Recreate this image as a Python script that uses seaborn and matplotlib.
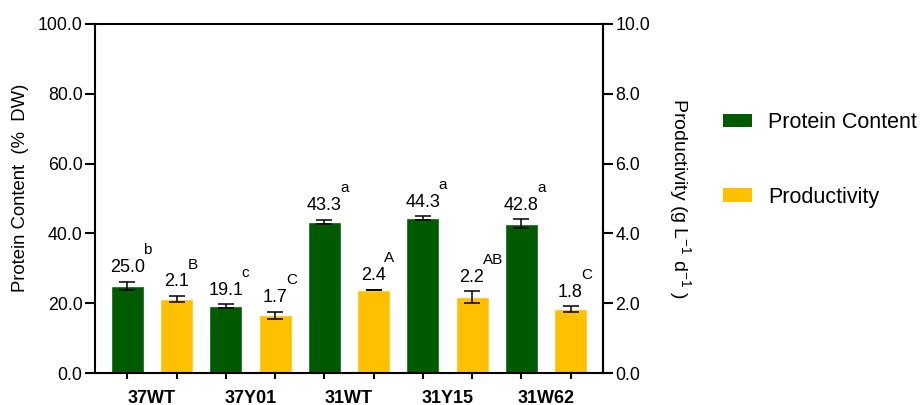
import matplotlib
matplotlib.use("Agg")
import matplotlib.pyplot as plt
import seaborn as sns
import pandas as pd
import numpy as np
from matplotlib.ticker import FormatStrFormatter, FixedLocator
from matplotlib.patches import Patch

strains = ["37WT", "37Y01", "31WT", "31Y15", "31W62"]
protein = [25.0, 19.1, 43.3, 44.3, 42.8]
protein_err = [1.2, 0.6, 0.6, 0.6, 1.2]
protein_letters = ["b", "c", "a", "a", "a"]
productivity = [2.12, 1.66, 2.38, 2.18, 1.83]
productivity_err = [0.08, 0.10, 0.01, 0.16, 0.08]
productivity_letters = ["B", "C", "A", "AB", "C"]
series_names = ["Protein Content", "Productivity"]
left_ticks = [0, 20, 40, 60, 80, 100]
right_ticks = [0, 2, 4, 6, 8, 10]

GREEN = "#005A00"
YELLOW = "#FFC000"

sns.set_style("white")
plt.rcParams["font.family"] = ["Liberation Sans", "DejaVu Sans"]
plt.rcParams["mathtext.fontset"] = "custom"
plt.rcParams["mathtext.rm"] = "Liberation Sans"
plt.rcParams["mathtext.it"] = "Liberation Sans:italic"
plt.rcParams["text.color"] = "black"
plt.rcParams["axes.labelcolor"] = "black"
plt.rcParams["xtick.color"] = "black"
plt.rcParams["ytick.color"] = "black"

scale = 10.0  # productivity plotted against left axis (0-100 <-> 0-10)
df = pd.DataFrame({
    "Strain": strains * 2,
    "Series": [series_names[0]] * 5 + [series_names[1]] * 5,
    "Value": protein + [v * scale for v in productivity],
})

fig = plt.figure(figsize=(9.21, 4.05), dpi=100)
ax = fig.add_axes([95 / 921, 32 / 405, 508 / 921, 349 / 405])

sns.barplot(data=df, x="Strain", y="Value", hue="Series", order=strains,
            hue_order=series_names, palette=[GREEN, YELLOW], width=1.0,
            gap=0.33, errorbar=None, saturation=1, legend=False, ax=ax)

ax.set_xlim(-0.58, 4.58)
ax.set_ylim(0, 100)

LW = 1.5
all_vals = [protein, [v * scale for v in productivity]]
all_errs = [protein_err, [e * scale for e in productivity_err]]
all_labels = [[f"{v:.1f}" for v in protein], [f"{v:.1f}" for v in productivity]]
all_letters = [protein_letters, productivity_letters]

bar_containers = list(ax.containers)
bar_centers = []
for ci, cont in enumerate(bar_containers):
    for j, p in enumerate(cont.patches):
        xc = p.get_x() + p.get_width() / 2
        bar_centers.append(xc)
        v = all_vals[ci][j]
        e = all_errs[ci][j]
        ax.errorbar(xc, v, yerr=e, fmt="none", ecolor="black",
                    elinewidth=1.1, capsize=6, capthick=1.1, zorder=4)
        t = ax.annotate(all_labels[ci][j], xy=(xc, v + e), xytext=(0, 7),
                        textcoords="offset points", ha="center",
                        va="baseline", fontsize=13)
        ax.annotate(all_letters[ci][j], xy=(1.0, 1.0), xycoords=t,
                    xytext=(-1.2, 3.5), textcoords="offset points",
                    ha="left", va="baseline", fontsize=11)

# ticks
ax.xaxis.set_major_locator(FixedLocator(sorted(bar_centers)))
ax.set_xticklabels([""] * len(bar_centers))
ax.set_xticks(range(len(strains)), minor=True)
ax.set_xticklabels(strains, minor=True, fontsize=13, fontweight="bold")
ax.yaxis.set_major_locator(FixedLocator(left_ticks))
ax.yaxis.set_major_formatter(FormatStrFormatter("%.1f"))
ax.tick_params(axis="x", which="major", direction="out", length=4,
               width=LW, bottom=True)
ax.tick_params(axis="x", which="minor", length=0, pad=12, bottom=True)
ax.tick_params(axis="y", which="major", direction="out", length=7,
               width=LW, labelsize=12.8, left=True, pad=2)
ax.set_xlabel("")
ax.set_ylabel("Protein Content  (%  DW)", fontsize=13.3)
ax.yaxis.set_label_coords(-0.129, 0.53)

for s in ["left", "right", "top", "bottom"]:
    ax.spines[s].set_visible(True)
    ax.spines[s].set_linewidth(LW)
    ax.spines[s].set_color("black")

ax2 = ax.twinx()
ax2.set_ylim(0, 10)
ax2.yaxis.set_major_locator(FixedLocator(right_ticks))
ax2.yaxis.set_major_formatter(FormatStrFormatter("%.1f"))
ax2.tick_params(axis="y", which="major", direction="out", length=7,
                width=LW, labelsize=12.8, right=True, pad=2)
for s in ["left", "top", "bottom"]:
    ax2.spines[s].set_visible(False)
ax2.spines["right"].set_linewidth(LW)
ax2.spines["right"].set_color("black")
ax2.set_ylabel(r"Productivity (g L$^{\mathregular{-1}}$ d$^{\mathregular{-1}}$ )",
               fontsize=14, rotation=-90, va="bottom", labelpad=11)
ax2.yaxis.set_label_coords(1.125, 0.5)
ax2.grid(False)
ax.grid(False)

handles = [Patch(facecolor=GREEN, edgecolor="none"),
           Patch(facecolor=YELLOW, edgecolor="none")]
fig.legend(handles, series_names, loc="upper left",
           bbox_to_anchor=(723 / 921, 1 - 112 / 405), frameon=False,
           fontsize=15.5, borderpad=0, borderaxespad=0, handlelength=1.35,
           handleheight=0.6, handletextpad=0.75, labelspacing=2.5)

fig.savefig("out.png", dpi=100)
